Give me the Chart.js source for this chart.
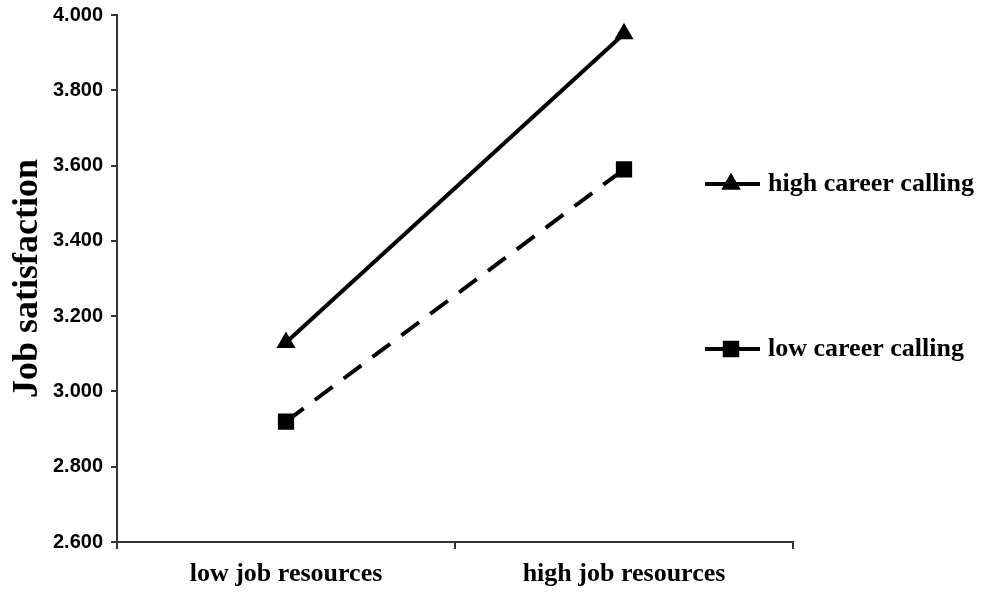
<!DOCTYPE html>
<html>
<head>
<meta charset="utf-8">
<script src="https://cdn.jsdelivr.net/npm/chart.js@4.4.1/dist/chart.umd.min.js"></script>
<style>
  html, body { margin: 0; padding: 0; background: #ffffff; }
  #wrap { width: 988px; height: 593px; }
</style>
</head>
<body>
<div id="wrap"><canvas id="chart" width="988" height="593"></canvas></div>
<script>
const categories = ["low job resources", "high job resources"];
const highCalling = [3.13, 3.95];
const lowCalling = [2.92, 3.59];
const yTicks = [2.6, 2.8, 3.0, 3.2, 3.4, 3.6, 3.8, 4.0];

// legend drawn on the right, spaced like the original figure
const sideLegend = {
  id: "sideLegend",
  afterDraw(chart) {
    const ctx = chart.ctx;
    const rows = [184, 349];
    chart.data.datasets.forEach((ds, i) => {
      const y = rows[i];
      ctx.save();
      ctx.strokeStyle = "#000";
      ctx.lineWidth = 4;
      ctx.beginPath();
      ctx.moveTo(705, y);
      ctx.lineTo(760, y);
      ctx.stroke();
      ctx.fillStyle = "#000";
      Chart.helpers.drawPoint(ctx, {
        pointStyle: ds.pointStyle,
        radius: ds.pointRadius,
        borderWidth: 0
      }, 731, y);
      ctx.fill();
      ctx.font = "bold 26px 'Liberation Serif', 'Times New Roman', serif";
      ctx.textBaseline = "middle";
      ctx.fillText(ds.label, 768, y);
      ctx.restore();
    });
  }
};

new Chart(document.getElementById("chart"), {
  type: "line",
  data: {
    labels: categories,
    datasets: [{
      label: "high career calling",
      data: highCalling,
      borderColor: "#000",
      backgroundColor: "#000",
      borderWidth: 4,
      pointStyle: "triangle",
      pointRadius: 11,
      pointBorderWidth: 0,
      fill: false
    }, {
      label: "low career calling",
      data: lowCalling,
      borderColor: "#000",
      backgroundColor: "#000",
      borderWidth: 4,
      borderDash: [22, 14],
      pointStyle: "rect",
      pointRadius: 11.5,
      pointBorderWidth: 0,
      fill: false
    }]
  },
  options: {
    responsive: false,
    animation: false,
    layout: {
      padding: { top: 15, right: 195, left: 0, bottom: 0 }
    },
    plugins: {
      legend: { display: false },
      tooltip: { enabled: false }
    },
    scales: {
      x: {
        offset: true,
        afterFit(s) { s.height = 51; },
        grid: {
          offset: true,
          drawOnChartArea: false,
          tickLength: 7,
          color: "#333",
          lineWidth: 2
        },
        border: { color: "#333", width: 2 },
        ticks: {
          color: "#000",
          padding: 10,
          font: { family: "'Liberation Serif', 'Times New Roman', serif", size: 26, weight: "bold" }
        }
      },
      y: {
        min: 2.6,
        max: 4.0,
        afterFit(s) {
          s.width = 117;
          s.paddingTop = 0;
          s.paddingBottom = 0;
        },
        afterBuildTicks(s) { s.ticks = yTicks.map(v => ({ value: v })); },
        grid: {
          drawOnChartArea: false,
          tickLength: 6,
          color: "#333",
          lineWidth: 2
        },
        border: { color: "#333", width: 2 },
        ticks: {
          color: "#000",
          padding: 8,
          callback: v => v.toFixed(3),
          font: { family: "'Liberation Sans', Arial, sans-serif", size: 20, weight: "bold" }
        },
        title: {
          display: true,
          text: "Job satisfaction",
          color: "#000",
          padding: { top: 6, bottom: 0 },
          font: { family: "'Liberation Serif', 'Times New Roman', serif", size: 36, weight: "bold" }
        }
      }
    }
  },
  plugins: [sideLegend]
});
</script>
</body>
</html>
